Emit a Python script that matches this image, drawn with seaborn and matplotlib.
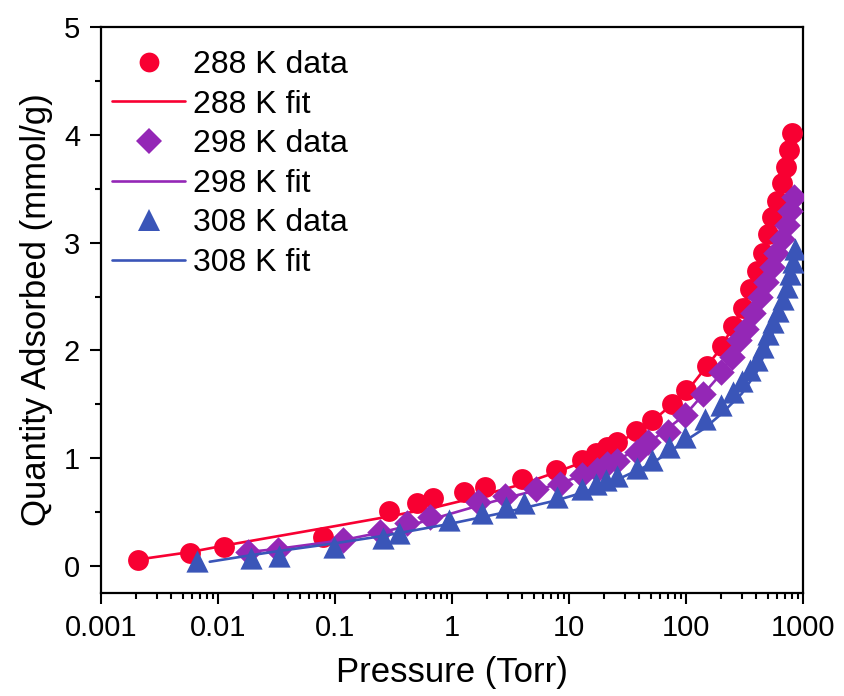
import numpy as np
import pandas as pd
import matplotlib
matplotlib.use("Agg")
import matplotlib.pyplot as plt
from matplotlib.ticker import FixedLocator, LogLocator, MultipleLocator, NullFormatter
from matplotlib.lines import Line2D
import seaborn as sns

# ---------------- data ----------------
p288 = [0.00206, 0.0058, 0.0113, 0.0785, 0.291, 0.499, 0.69, 1.27, 1.92, 3.99, 7.75,
        12.8, 17.0, 21.0, 25.6, 37.2, 51, 75.5, 100, 152, 202, 254, 305, 352, 402,
        452, 499, 547, 596, 657, 711, 758, 811]
q288 = [0.06, 0.12, 0.18, 0.27, 0.51, 0.586, 0.627, 0.688, 0.734, 0.806, 0.895,
        0.981, 1.049, 1.105, 1.151, 1.253, 1.358, 1.506, 1.636, 1.852, 2.040, 2.222, 2.395, 2.571, 2.741,
        2.901, 3.080, 3.234, 3.389, 3.553, 3.706, 3.858, 4.016]

p298 = [0.01815, 0.0327, 0.1164, 0.2427, 0.410, 0.649, 1.68, 2.86, 5.18, 8.38, 13.0,
        17.3, 21.3, 25.6, 37.9, 47.6, 70.6, 98, 141, 198, 246, 286, 326, 376, 429,
        483, 540, 588, 658, 726, 774, 838]
q298 = [0.132, 0.148, 0.241, 0.318, 0.395, 0.456, 0.593, 0.648, 0.713, 0.759, 0.843,
        0.894, 0.944, 0.972, 1.058, 1.151, 1.243, 1.398, 1.599, 1.796, 1.938, 2.093, 2.201, 2.345, 2.494,
        2.632, 2.771, 2.901, 3.034, 3.167, 3.296, 3.426]

p308 = [0.00658, 0.019, 0.0334, 0.098, 0.259, 0.355, 0.942, 1.79, 2.90, 4.09, 7.85,
        13.0, 17.0, 20.9, 25.6, 37.9, 51, 72, 98, 145, 200, 250, 300, 350, 402,
        452, 505, 557, 615, 670, 726, 774, 827, 855]
q308 = [0.049, 0.071, 0.093, 0.173, 0.256, 0.303, 0.426, 0.495, 0.546, 0.583, 0.639,
        0.713, 0.759, 0.796, 0.833, 0.905, 0.988, 1.10, 1.197, 1.36, 1.49, 1.61, 1.72, 1.82, 1.907,
        2.031, 2.155, 2.262, 2.370, 2.479, 2.586, 2.710, 2.818, 2.942]

# fit curves
pfit288 = [0.00206, 0.0058, 0.0113, 0.0785, 0.291, 0.69, 1.27, 3.99, 7.75, 12.8, 25.6,
           51, 100, 202, 305, 402, 499, 596, 711, 811]
qfit288 = [0.06, 0.13, 0.19, 0.35, 0.46, 0.54, 0.61, 0.76, 0.87, 0.96, 1.13,
           1.34, 1.61, 2.03, 2.40, 2.74, 3.07, 3.39, 3.71, 4.02]

pfit298 = [0.01815, 0.0327, 0.1164, 0.2427, 0.410, 0.649, 1.68, 2.86, 5.18, 8.38, 13.0,
           25.6, 47.6, 98, 198, 286, 376, 483, 588, 726, 838]
qfit298 = [0.13, 0.16, 0.24, 0.31, 0.37, 0.43, 0.56, 0.63, 0.70, 0.77, 0.84,
           0.98, 1.14, 1.40, 1.78, 2.07, 2.34, 2.63, 2.90, 3.17, 3.43]

pfit308 = [0.0085, 0.019, 0.0334, 0.098, 0.259, 0.942, 2.90, 7.85, 13.0, 25.6, 51,
           98, 145, 200, 300, 402, 505, 615, 726, 827, 855]
qfit308 = [0.04, 0.10, 0.14, 0.21, 0.28, 0.39, 0.50, 0.61, 0.68, 0.80, 0.95,
           1.16, 1.28, 1.41, 1.60, 1.80, 2.05, 2.31, 2.57, 2.81, 2.92]

series_labels = ["288 K", "298 K", "308 K"]
x_ticks = [0.001, 0.01, 0.1, 1, 10, 100, 1000]
x_tick_labels = ["0.001", "0.01", "0.1", "1", "10", "100", "1000"]
y_ticks = [0, 1, 2, 3, 4, 5]
x_label = "Pressure (Torr)"
y_label = "Quantity Adsorbed (mmol/g)"

# ---------------- style ----------------
sns.set_style("ticks")
plt.rcParams["font.family"] = ["Liberation Sans", "DejaVu Sans"]
plt.rcParams["text.color"] = "black"
plt.rcParams["axes.labelcolor"] = "black"
plt.rcParams["xtick.color"] = "black"
plt.rcParams["ytick.color"] = "black"

colors = ["#F80032", "#9427B6", "#3A55B8"]
markers = ["o", "D", "^"]
msizes = [15, 13.5, 16]

fig = plt.figure(figsize=(8.44, 6.96), dpi=100)
ax = fig.add_axes([101 / 844, 1 - 593 / 696, (803 - 101) / 844, (593 - 27) / 696])

data_sets = [(p288, q288, pfit288, qfit288), (p298, q298, pfit298, qfit298),
             (p308, q308, pfit308, qfit308)]

handles, labels = [], []
z = 3
for (px, qy, pf, qf), lab, c, m, ms in zip(data_sets, series_labels, colors, markers, msizes):
    df = pd.DataFrame({"P": px, "Q": qy})
    dff = pd.DataFrame({"P": pf, "Q": qf})
    sns.scatterplot(data=df, x="P", y="Q", ax=ax, color=c, marker=m, s=ms ** 2,
                    linewidth=0, zorder=z, legend=False)
    z += 1
    sns.lineplot(data=dff, x="P", y="Q", ax=ax, color=c, lw=1.9, estimator=None,
                 zorder=z, legend=False)
    z += 1
    handles.append(Line2D([], [], ls="none", marker=m, color=c, markersize=ms * 0.95,
                          markeredgewidth=0))
    labels.append(f"{lab} data")
    handles.append(Line2D([], [], color=c, lw=1.9))
    labels.append(f"{lab} fit")

ax.set_xscale("log")
ax.set_xlim(0.001, 1000)
ax.set_ylim(-0.25, 5)
ax.xaxis.set_major_locator(FixedLocator(x_ticks))
ax.set_xticklabels(x_tick_labels)
ax.xaxis.set_minor_locator(LogLocator(base=10, subs=np.arange(2, 10)))
ax.xaxis.set_minor_formatter(NullFormatter())
ax.set_yticks(y_ticks)
ax.yaxis.set_minor_locator(MultipleLocator(0.5))

for s in ax.spines.values():
    s.set_linewidth(1.6)
    s.set_color("black")
ax.tick_params(which="major", direction="out", length=8, width=1.5, labelsize=21,
               top=False, right=False, pad=7, colors="black")
ax.tick_params(which="minor", direction="out", length=4.5, width=1.5, top=False, right=False,
               colors="black")

ax.set_xlabel(x_label, fontsize=25, labelpad=10, color="black")
ax.set_ylabel(y_label, fontsize=25, labelpad=8, color="black")

leg = ax.legend(handles, labels, loc="upper left", bbox_to_anchor=(112 / 844, 1 - 50 / 696),
                bbox_transform=fig.transFigure, frameon=False, fontsize=23,
                handlelength=2.3, handletextpad=0.25, labelspacing=0.3, borderpad=0,
                borderaxespad=0)
for t in leg.get_texts():
    t.set_color("black")

fig.savefig("out.png", dpi=100)
